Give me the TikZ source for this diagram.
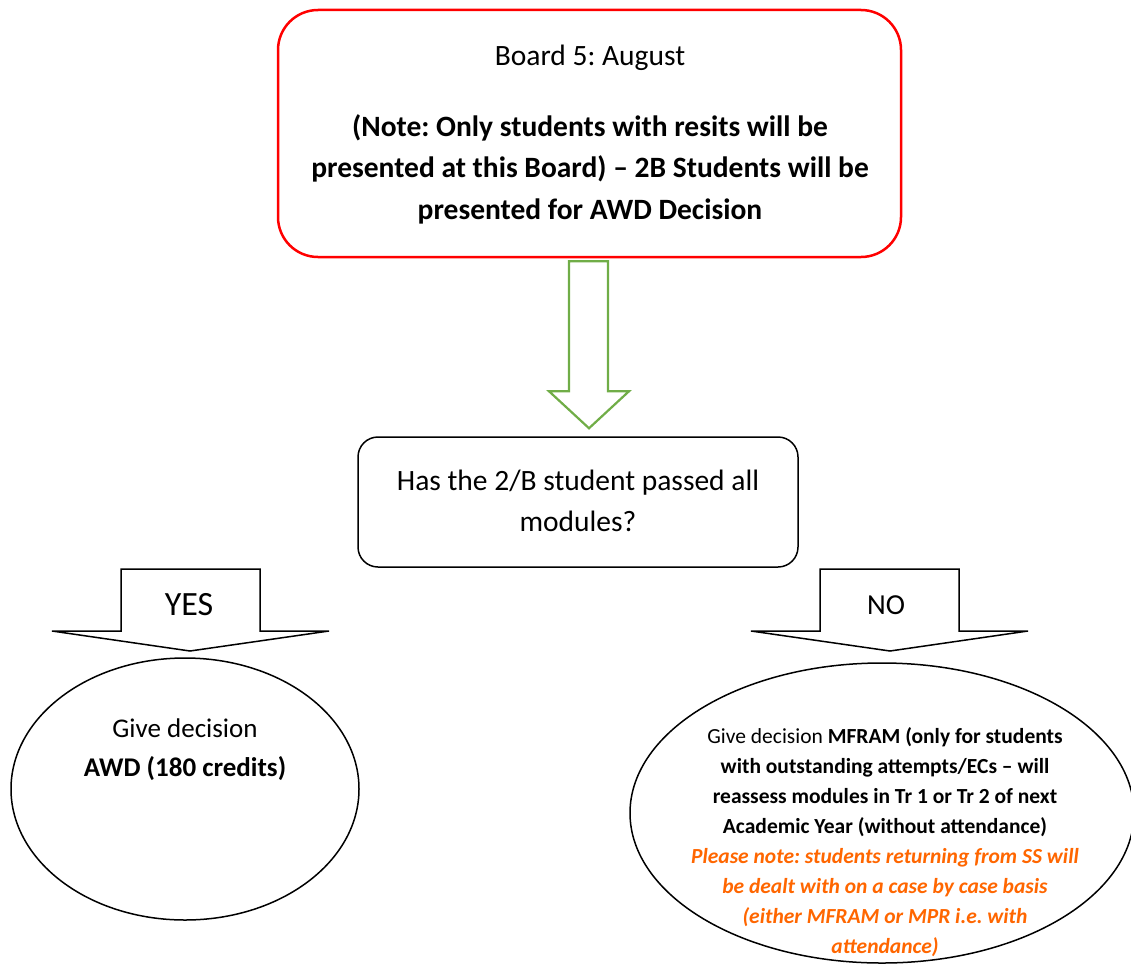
\documentclass[tikz,border=0pt]{standalone}
\usepackage{fontspec}
\setmainfont{Carlito}
\frenchspacing
\usetikzlibrary{calc,shapes.geometric}
\definecolor{arrowgreen}{RGB}{112,173,71}
\definecolor{noteorange}{RGB}{255,102,0}
\begin{document}
\begin{tikzpicture}[x=1pt,y=-1pt,
  topbox/.style={draw=red, line width=2.5pt, rounded corners=40pt, minimum width=623pt, minimum height=247pt, align=center, inner sep=0pt},
  qbox/.style={draw=black, line width=1.5pt, rounded corners=20pt, minimum width=440pt, minimum height=130pt, inner sep=0pt},
  outcome/.style={draw=black, line width=1.5pt, ellipse, inner sep=0pt},
  bigtext/.style={font=\fontsize{29.5}{41.5}\selectfont, align=center, inner sep=0pt},
  smalltext/.style={font=\fontsize{21.5}{30}\selectfont, align=center, inner sep=0pt},
  blockarrow/.style={draw=black, line width=1.5pt, line join=miter},
  greenarrow/.style={draw=arrowgreen, line width=2.2pt, line join=miter}
]
\useasboundingbox (0,0) rectangle (1131,966);

% Board box
\node[topbox] (board) at (589.5,133.5) {};
\node[bigtext] (boardtitle) at (590,58) {Board 5: August};
\node[bigtext] (boardnote) at (590,169) {\textbf{(Note: Only students with resits will be}\\
  \textbf{presented at this Board) – 2B Students will be}\\
  \textbf{presented for AWD Decision}};

% Question box
\node[qbox] (question) at (578,502) {};
\node[bigtext] (qtext) at (578,501) {Has the 2/B student passed all\\modules?};

% Outcome ellipses
\node[outcome, minimum width=348pt, minimum height=262pt] (awd) at (185,789) {};
\node[bigtext, font=\fontsize{27}{39}\selectfont] (awdtext) at (185,750) {Give decision\\\textbf{AWD (180 credits)}};

\node[outcome, minimum width=504pt, minimum height=300pt] (mfram) at (882,813) {};
\node[smalltext] (mframtext) at (885,842) {Give decision \textbf{MFRAM (only for students}\\
  \textbf{with outstanding attempts/ECs – will}\\
  \textbf{reassess modules in Tr 1 or Tr 2 of next}\\
  \textbf{Academic Year (without attendance)}\\
  \textcolor{noteorange}{\textbf{\itshape Please note: students returning from SS will}}\\
  \textcolor{noteorange}{\textbf{\itshape be dealt with on a case by case basis}}\\
  \textcolor{noteorange}{\textbf{\itshape (either MFRAM or MPR i.e. with}}\\
  \textcolor{noteorange}{\textbf{\itshape attendance)}}};

% Green block arrow from the board to the question
\coordinate (gtop) at ($(board.south)+(0,3)$);
\coordinate (gtip) at ($(question.north)+(11,-8)$);
\draw[greenarrow] ($(gtop)+(-20.5,0)$) -- ($(gtop)+(-20.5,130)$) -- ($(gtop)+(-40.5,130)$)
  -- (gtip) -- ($(gtop)+(39.5,130)$) -- ($(gtop)+(18.5,130)$) -- ($(gtop)+(18.5,0)$) -- cycle;

% YES block arrow
\coordinate (yestip) at (190,651);
\draw[blockarrow] ($(yestip)+(-69,-82)$) -- ($(yestip)+(70,-82)$) -- ($(yestip)+(70,-20)$)
  -- ($(yestip)+(139,-20)$) -- (yestip) -- ($(yestip)+(-138,-20)$) -- ($(yestip)+(-69,-20)$) -- cycle;
\node[bigtext, font=\fontsize{34}{40}\selectfont] (yes) at (189,605) {YES};

% NO block arrow
\coordinate (notip) at (890,651);
\draw[blockarrow] ($(notip)+(-70,-82)$) -- ($(notip)+(69,-82)$) -- ($(notip)+(69,-20)$)
  -- ($(notip)+(138,-20)$) -- (notip) -- ($(notip)+(-139,-20)$) -- ($(notip)+(-70,-20)$) -- cycle;
\node[bigtext, font=\fontsize{29}{40}\selectfont] (no) at (886,605) {NO};

\end{tikzpicture}
\end{document}
